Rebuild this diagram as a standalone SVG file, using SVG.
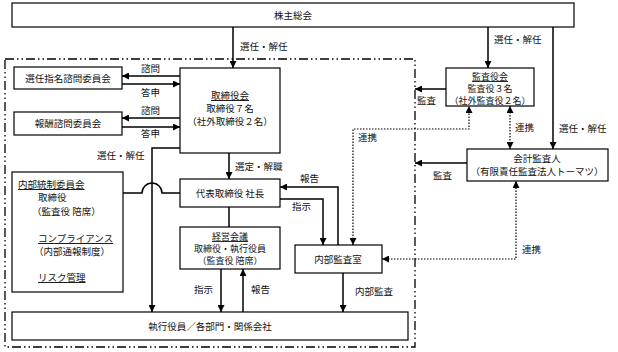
<svg xmlns="http://www.w3.org/2000/svg" width="618" height="352" viewBox="0 0 618 352">
<style>
.box{fill:#fff;stroke:#000;stroke-width:1.2}
.t{font-family:"Noto Sans CJK JP","Noto Sans",sans-serif;font-size:9.5px;fill:#111}
.s{font-size:9px}
.c{text-anchor:middle}
.ln{fill:none;stroke:#000;stroke-width:1.5}
.dot{fill:none;stroke:#000;stroke-width:1.2;stroke-dasharray:1.5 1.5}
.frame{fill:none;stroke:#000;stroke-width:1.3;stroke-dasharray:9 3 1.5 3 1.5 3}
.u{text-decoration:underline}
</style>
<defs>
<marker id="ah" viewBox="0 0 10 10" refX="10" refY="5" markerWidth="7" markerHeight="7" markerUnits="userSpaceOnUse" orient="auto-start-reverse"><path d="M0,0 L10,5 L0,10 z" fill="#000"/></marker>
</defs>
<rect class="frame" x="5" y="59" width="410" height="288"/>
<g id="n-kabunushi"><rect class="box" x="12" y="3" width="562" height="24"/><text class="t c" x="293" y="18.5">株主総会</text></g>
<g id="n-senin"><rect class="box" x="14" y="67" width="108" height="22"/><text class="t c" x="68" y="81.5">選任指名諮問委員会</text></g>
<g id="n-hoshu"><rect class="box" x="14" y="112" width="108" height="23"/><text class="t c" x="68" y="127">報酬諮問委員会</text></g>
<g id="n-torishimariyakukai"><rect class="box" x="180" y="68" width="100" height="85"/><text class="t c u" x="230" y="99">取締役会</text><text class="t c" x="230" y="112">取締役７名</text><text class="t c" x="230" y="125">（社外取締役２名）</text></g>
<g id="n-kansayakukai"><rect class="box" x="446" y="68" width="88" height="38"/><text class="t s c u" x="490" y="80">監査役会</text><text class="t s c" x="490" y="92">監査役３名</text><text class="t s c" x="490" y="104">（社外監査役２名）</text></g>
<g id="n-kaikei"><rect class="box" x="467" y="149" width="141" height="32"/><text class="t c" x="537" y="162">会計監査人</text><text class="t c" x="537" y="175">（有限責任監査法人トーマツ）</text></g>
<g id="n-daihyo"><rect class="box" x="180" y="179" width="100" height="28"/><text class="t c" x="230" y="197">代表取締役  社長</text></g>
<g id="n-naibutosei"><rect class="box" x="12" y="172" width="111" height="120"/><text class="t u" x="18" y="188">内部統制委員会</text><text class="t" x="38" y="201">取締役</text><text class="t" x="32" y="215">（監査役  陪席）</text><text class="t u" x="38" y="242">コンプライアンス</text><text class="t" x="34" y="255">（内部通報制度）</text><text class="t u" x="38" y="281">リスク管理</text></g>
<g id="n-keiei"><rect class="box" x="180" y="227" width="100" height="42"/><text class="t s c u" x="230" y="240">経営会議</text><text class="t s c" x="230" y="252">取締役・執行役員</text><text class="t s c" x="230" y="264">（監査役  陪席）</text></g>
<g id="n-naibukansa"><rect class="box" x="295" y="245" width="87" height="28"/><text class="t c" x="338" y="263">内部監査室</text></g>
<g id="n-shikko"><rect class="box" x="12" y="312" width="396" height="28"/><text class="t c" x="210" y="330">執行役員／各部門・関係会社</text></g>
<g id="connectors">
<path class="ln" d="M233,27 V68" marker-end="url(#ah)"/>
<path class="ln" d="M488,27 V68" marker-end="url(#ah)"/>
<path class="ln" d="M553,27 V149" marker-end="url(#ah)"/>
<path class="ln" d="M180,76 H122" marker-end="url(#ah)"/>
<path class="ln" d="M122,84 H180" marker-end="url(#ah)"/>
<path class="ln" d="M180,118 H122" marker-end="url(#ah)"/>
<path class="ln" d="M122,127 H180" marker-end="url(#ah)"/>
<path class="ln" d="M180,148 H152 V312" marker-end="url(#ah)"/>
<path class="ln" d="M229,153 V179" marker-end="url(#ah)"/>
<path class="ln" d="M123,193 H142 A10,10 0 0 1 162,193 H180"/>
<path class="ln" d="M229,207 V227"/>
<path class="ln" d="M338,245 V187 H280" marker-end="url(#ah)"/>
<path class="ln" d="M280,199 H323 V245" marker-end="url(#ah)"/>
<path class="ln" d="M221,269 V312" marker-end="url(#ah)"/>
<path class="ln" d="M243,312 V269" marker-end="url(#ah)"/>
<path class="ln" d="M343,273 V312" marker-end="url(#ah)"/>
<path class="ln" d="M446,89 H415" marker-end="url(#ah)"/>
<path class="ln" d="M467,163 H415" marker-end="url(#ah)"/>
<path class="dot" d="M353,245 V129 H469 V106" marker-start="url(#ah)" marker-end="url(#ah)"/>
<path class="dot" d="M510,106 V149" marker-start="url(#ah)" marker-end="url(#ah)"/>
<path class="dot" d="M382,259 H516 V181" marker-start="url(#ah)" marker-end="url(#ah)"/>
<text class="t" x="240" y="50">選任・解任</text>
<text class="t" x="494" y="43">選任・解任</text>
<text class="t" x="559" y="132">選任・解任</text>
<text class="t" x="141" y="72">諮問</text>
<text class="t" x="141" y="96">答申</text>
<text class="t" x="141" y="114">諮問</text>
<text class="t" x="141" y="137">答申</text>
<text class="t" x="97" y="159">選任・解任</text>
<text class="t" x="235" y="170">選定・解職</text>
<text class="t" x="300" y="182">報告</text>
<text class="t" x="292" y="210">指示</text>
<text class="t" x="194" y="293">指示</text>
<text class="t" x="251" y="293">報告</text>
<text class="t" x="355" y="295">内部監査</text>
<text class="t" x="417" y="104">監査</text>
<text class="t" x="433" y="179">監査</text>
<text class="t" x="358" y="141">連携</text>
<text class="t" x="515" y="131">連携</text>
<text class="t" x="522" y="253">連携</text>
</g>
</svg>
